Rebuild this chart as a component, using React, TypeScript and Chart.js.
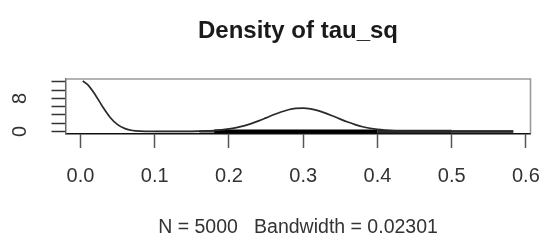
import React, { useEffect, useRef } from 'react';
import { Chart, registerables } from 'chart.js';

Chart.register(...registerables);

// ---- data ----
const titleText = 'Density of tau_sq';
const subtitleText = 'N = 5000   Bandwidth = 0.02301';

const densityX = [
  0.003, 0.01, 0.02, 0.03, 0.04, 0.05, 0.06, 0.07, 0.08, 0.09,
  0.1, 0.11, 0.12, 0.13, 0.14, 0.15, 0.16, 0.17, 0.18, 0.19,
  0.2, 0.21, 0.22, 0.23, 0.24, 0.25, 0.26, 0.27, 0.28, 0.29,
  0.3, 0.31, 0.32, 0.33, 0.34, 0.35, 0.36, 0.37, 0.38, 0.39,
  0.4, 0.41, 0.42, 0.43, 0.44, 0.45, 0.46, 0.47, 0.48, 0.49,
  0.5, 0.51, 0.52, 0.53, 0.54, 0.55, 0.56, 0.57, 0.58, 0.583,
];
const densityY = [
  12.23, 11.3, 8.86, 5.94, 3.39, 1.65, 0.69, 0.24, 0.07, 0.03,
  0.02, 0.02, 0.02, 0.02, 0.03, 0.05, 0.08, 0.13, 0.23, 0.38,
  0.62, 0.95, 1.36, 1.91, 2.57, 3.3, 4.04, 4.71, 5.26, 5.59,
  5.66, 5.48, 5.06, 4.45, 3.74, 3.0, 2.29, 1.67, 1.15, 0.78,
  0.51, 0.33, 0.21, 0.14, 0.1, 0.08, 0.06, 0.05, 0.04, 0.03,
  0.03, 0.02, 0.02, 0.02, 0.02, 0.01, 0.01, 0.01, 0.01, 0.01,
];

const xTickValues = [0, 0.1, 0.2, 0.3, 0.4, 0.5, 0.6];
const xTickLabels = ['0.0', '0.1', '0.2', '0.3', '0.4', '0.5', '0.6'];
const yTickValues = [0, 2, 4, 6, 8, 10, 12];
const yTickLabels = ['0', '', '', '', '8', '', ''];

// rug of observations: ranges along x and how dense the ticks look there (0..1)
const rugFrom = [0.1, 0.16, 0.18, 0.4, 0.5];
const rugTo = [0.16, 0.18, 0.4, 0.5, 0.583];
const rugDensity = [0.15, 0.55, 1, 0.8, 0.6];

const FONT = "'Liberation Sans', Arial, Helvetica, sans-serif";

export default function App() {
  const ref = useRef<HTMLCanvasElement | null>(null);

  useEffect(() => {
    const canvas = ref.current;
    if (!canvas) return;

    const xLo = Math.min(...densityX);
    const xHi = Math.max(...densityX);
    const xr = xHi - xLo;
    const yHi = Math.max(...densityY);

    const shade = (d: number) => {
      const v = Math.round(200 * (1 - d));
      return `rgb(${v},${v},${v})`;
    };

    const rugSets = rugFrom.map((from, i) => ({
      type: 'line' as const,
      data: [
        { x: from, y: 0 },
        { x: rugTo[i], y: 0 },
      ],
      borderColor: shade(rugDensity[i]),
      borderWidth: 1 + 3 * rugDensity[i],
      pointRadius: 0,
      tension: 0,
    }));

    const boxPlugin = {
      id: 'rbox',
      afterDraw(chart: any) {
        const { ctx, chartArea } = chart;
        const { left, right, top, bottom } = chartArea;
        ctx.save();
        ctx.strokeStyle = '#9a9a9a';
        ctx.lineWidth = 1.6;
        ctx.beginPath();
        ctx.moveTo(left, top);
        ctx.lineTo(right, top);
        ctx.lineTo(right, bottom);
        ctx.stroke();
        ctx.restore();
      },
    };

    const chart = new Chart(canvas, {
      type: 'line',
      data: {
        datasets: [
          {
            data: densityX.map((x, i) => ({ x, y: densityY[i] })),
            borderColor: '#2a2a2a',
            borderWidth: 1.7,
            pointRadius: 0,
            cubicInterpolationMode: 'monotone',
          },
          ...rugSets,
        ],
      },
      options: {
        animation: false,
        responsive: false,
        devicePixelRatio: 1,
        layout: { padding: { left: 0, right: 16.5, top: 0, bottom: 0 } },
        plugins: {
          legend: { display: false },
          tooltip: { enabled: false },
          title: {
            display: true,
            text: titleText,
            fullSize: false,
            color: '#1a1a1a',
            font: { family: FONT, size: 24, weight: 'bold' },
            padding: { top: 17, bottom: 33.2 },
          },
        },
        scales: {
          x: {
            type: 'linear',
            position: 'bottom',
            min: xLo - 0.04 * xr,
            max: xHi + 0.04 * xr,
            afterBuildTicks: (scale: any) => {
              scale.ticks = xTickValues.map((v) => ({ value: v }));
            },
            afterFit: (scale: any) => {
              scale.height = 110.5;
              scale.paddingLeft = 0;
              scale.paddingRight = 0;
            },
            ticks: {
              autoSkip: false,
              maxRotation: 0,
              minRotation: 0,
              padding: 16,
              color: '#333',
              font: { family: FONT, size: 20 },
              callback: (_v: any, i: number) => xTickLabels[i],
            },
            grid: {
              drawOnChartArea: false,
              drawTicks: true,
              tickLength: 14.5,
              tickColor: '#555',
              tickWidth: 1.5,
            },
            border: { display: true, color: '#111', width: 1.5 },
            title: {
              display: true,
              text: subtitleText,
              color: '#333',
              font: { family: FONT, size: 19.5 },
              padding: { top: 0, bottom: 5 },
            },
          },
          y: {
            type: 'linear',
            position: 'left',
            min: -0.04 * yHi,
            max: 1.04 * yHi,
            afterBuildTicks: (scale: any) => {
              scale.ticks = yTickValues.map((v) => ({ value: v }));
            },
            afterFit: (scale: any) => {
              scale.width = 65.5;
              scale.paddingTop = 0;
              scale.paddingBottom = 0;
            },
            ticks: {
              autoSkip: false,
              minRotation: 90,
              maxRotation: 90,
              crossAlign: 'center',
              padding: 25,
              color: '#333',
              font: { family: FONT, size: 20 },
              callback: (_v: any, i: number) => yTickLabels[i],
            },
            grid: {
              drawOnChartArea: false,
              drawTicks: true,
              tickLength: 14,
              tickColor: '#333',
              tickWidth: 1.5,
            },
            border: { display: true, color: '#666', width: 1.5 },
          },
        },
      },
      plugins: [boxPlugin],
    } as any);

    return () => chart.destroy();
  }, []);

  return (
    <div style={{ position: 'fixed', left: 0, top: 0, width: 547, height: 244, background: '#fff' }}>
      <canvas ref={ref} width={547} height={244} style={{ display: 'block' }} />
    </div>
  );
}
